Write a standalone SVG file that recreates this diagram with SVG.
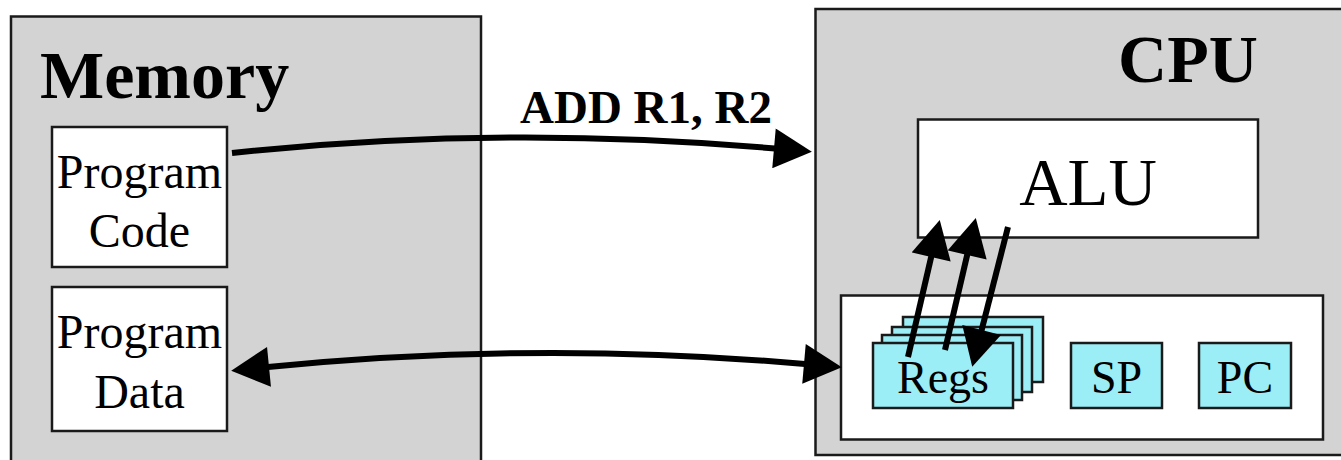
<svg xmlns="http://www.w3.org/2000/svg" width="1341" height="460" viewBox="0 0 1341 460">
<style>
  .box { stroke: #1a1a1a; stroke-width: 2.5; }
  .grey { fill: #d3d3d3; }
  .white { fill: #ffffff; }
  .cyan { fill: #9beef6; }
  .t { font-family: "Liberation Serif", "Times New Roman", serif; fill: #000; }
  .title { font-weight: bold; font-size: 68px; }
  .lbl { font-size: 48px; text-anchor: middle; }
  .reg { font-size: 46px; text-anchor: middle; }
  .conn { fill: none; stroke: #000; stroke-width: 6; }
</style>
<defs>
  <marker id="ah" markerUnits="userSpaceOnUse" markerWidth="40" markerHeight="40" viewBox="0 0 38 40" refX="1" refY="20" orient="auto-start-reverse">
    <path d="M0,0 L38,20 L0,40 Z" fill="#000"/>
  </marker>
</defs>
<rect width="1341" height="460" fill="#ffffff"/>

<g id="memory">
  <rect class="box grey" x="11" y="16.5" width="470" height="460"/>
  <text class="t title" x="40" y="98">Memory</text>
</g>
<g id="program-code">
  <rect class="box white" x="52" y="127" width="175" height="140"/>
  <text class="t lbl" x="139.5" y="188">Program</text>
  <text class="t lbl" x="139.5" y="247">Code</text>
</g>
<g id="program-data">
  <rect class="box white" x="52" y="287" width="175" height="144"/>
  <text class="t lbl" x="139.5" y="348">Program</text>
  <text class="t lbl" x="139.5" y="408">Data</text>
</g>

<g id="cpu">
  <rect class="box grey" x="815.5" y="9" width="540" height="446"/>
  <text class="t title" x="1188" y="82" text-anchor="middle">CPU</text>
</g>
<g id="alu">
  <rect class="box white" x="918" y="119.5" width="340" height="118"/>
  <text class="t" x="1088" y="205" font-size="67" text-anchor="middle">ALU</text>
</g>
<g id="register-file">
  <rect class="box white" x="841" y="295.5" width="482" height="144"/>
</g>
<g id="regs">
  <rect class="box cyan" x="903" y="317" width="140" height="65"/>
  <rect class="box cyan" x="892" y="327" width="140" height="65"/>
  <rect class="box cyan" x="882" y="335" width="140" height="65"/>
  <rect class="box cyan" x="873" y="343" width="140" height="65"/>
  <text class="t reg" x="943" y="393">Regs</text>
</g>
<g id="sp">
  <rect class="box cyan" x="1071" y="343" width="91" height="65"/>
  <text class="t reg" x="1116.5" y="393">SP</text>
</g>
<g id="pc">
  <rect class="box cyan" x="1199" y="343" width="92" height="65"/>
  <text class="t reg" x="1245" y="393">PC</text>
</g>

<g id="connectors">
  <path class="conn" d="M232,153 Q500,124.5 775,148.5" marker-end="url(#ah)"/>
  <text class="t" x="520" y="123" font-size="47" font-weight="bold">ADD R1, R2</text>
  <path class="conn" d="M268,367 Q537,340.5 805,364" marker-start="url(#ah)" marker-end="url(#ah)"/>
  <path class="conn" d="M908,357 L931.4,256" marker-end="url(#ah)"/>
  <path class="conn" d="M945,350 L967.4,254" marker-end="url(#ah)"/>
  <path class="conn" d="M1008,227 L981.4,331" marker-end="url(#ah)"/>
</g>
</svg>
